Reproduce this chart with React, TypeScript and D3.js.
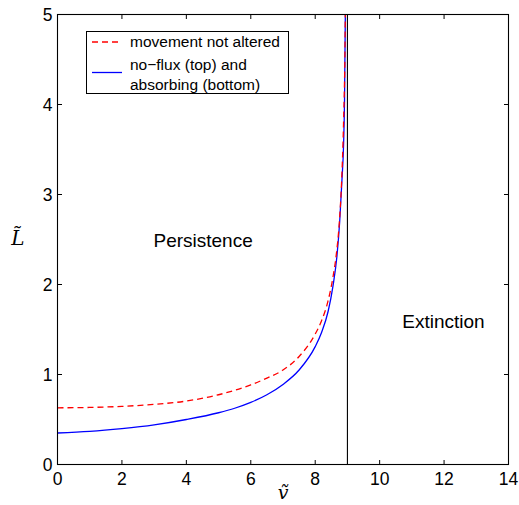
import React from "react";
import * as d3 from "d3";

const xTicks = [0, 2, 4, 6, 8, 10, 12, 14];
const yTicks = [0, 1, 2, 3, 4, 5];

const redV = [0, 1, 2, 3, 4, 5, 6, 6.5, 7, 7.5, 8, 8.2, 8.4, 8.55, 8.65, 8.75, 8.82, 8.88, 8.92, 8.935];
const redL = [0.63, 0.634, 0.646, 0.668, 0.705, 0.775, 0.885, 0.96, 1.05, 1.2, 1.45, 1.6, 1.82, 2.08, 2.32, 2.7, 3.15, 3.8, 4.5, 5.0];

const blueV = [0, 1, 2, 3, 4, 5, 5.5, 6, 6.5, 7, 7.5, 8, 8.2, 8.4, 8.55, 8.67, 8.76, 8.83, 8.88, 8.91, 8.935];
const blueL = [0.35, 0.367, 0.398, 0.44, 0.5, 0.575, 0.625, 0.69, 0.775, 0.89, 1.05, 1.31, 1.47, 1.7, 1.98, 2.3, 2.7, 3.16, 3.55, 4.05, 5.0];

const boundaryV = 9;
const legendLabels = ["movement not altered", "no\u2212flux (top) and", "absorbing (bottom)"];
const regionLabels = [
  { text: "Persistence", v: 4.52, L: 2.49 },
  { text: "Extinction", v: 11.98, L: 1.6 },
];

export default function App() {
  const W = 519, H = 505;
  const left = 57.5, right = 508.5, top = 14.5, bottom = 464.5;
  const x = d3.scaleLinear().domain([0, 14]).range([left, right]);
  const y = d3.scaleLinear().domain([0, 5]).range([bottom, top]);
  const line = d3.line<[number, number]>().x(d => x(d[0])).y(d => y(d[1])).curve(d3.curveMonotoneX);
  const redPts = redV.map((v, i) => [v, redL[i]] as [number, number]);
  const bluePts = blueV.map((v, i) => [v, blueL[i]] as [number, number]);
  const tickLen = 4.5;
  const font = "Liberation Sans, Arial, Helvetica, sans-serif";

  return (
    <svg width={W} height={H} style={{ position: "absolute", left: 0, top: 0, background: "#fff" }}>
      <defs>
        <clipPath id="plotclip">
          <rect x={left} y={top} width={right - left} height={bottom - top} />
        </clipPath>
      </defs>
      <rect x={0} y={0} width={W} height={H} fill="#fff" />
      <g clipPath="url(#plotclip)">
        <line x1={x(boundaryV)} x2={x(boundaryV)} y1={y(0)} y2={y(5)} stroke="#000" strokeWidth={1.1} />
        <path d={line(bluePts) || ""} fill="none" stroke="#0000ff" strokeWidth={1.3} />
        <path d={line(redPts) || ""} fill="none" stroke="#ff0000" strokeWidth={1.3} strokeDasharray="6,4" />
      </g>
      <rect x={left} y={top} width={right - left} height={bottom - top} fill="none" stroke="#000" strokeWidth={1.1} />
      {xTicks.map(t => (
        <g key={"x" + t}>
          <line x1={x(t)} x2={x(t)} y1={bottom} y2={bottom - tickLen} stroke="#000" />
          <line x1={x(t)} x2={x(t)} y1={top} y2={top + tickLen} stroke="#000" />
          <text x={x(t)} y={bottom + 20} textAnchor="middle" fontFamily={font} fontSize={17.5} fill="#000">{t}</text>
        </g>
      ))}
      {yTicks.map(t => (
        <g key={"y" + t}>
          <line x1={left} x2={left + tickLen} y1={y(t)} y2={y(t)} stroke="#000" />
          <line x1={right} x2={right - tickLen} y1={y(t)} y2={y(t)} stroke="#000" />
          <text x={left - 5} y={y(t) + 6} textAnchor="end" fontFamily={font} fontSize={17.5} fill="#000">{t}</text>
        </g>
      ))}
      <text x={283} y={499} textAnchor="middle" fontFamily="DejaVu Serif, Liberation Serif, serif" fontStyle="italic" fontSize={19}>{"v\u0303"}</text>
      <text x={18} y={245} textAnchor="middle" fontFamily="DejaVu Serif, Liberation Serif, serif" fontStyle="italic" fontSize={20}>{"L\u0303"}</text>
      {regionLabels.map(r => (
        <text key={r.text} x={x(r.v)} y={y(r.L) + 7} textAnchor="middle" fontFamily={font} fontSize={19} fill="#000">{r.text}</text>
      ))}
      <rect x={86.5} y={31.5} width={202} height={62} fill="#fff" stroke="#000" strokeWidth={1} />
      <line x1={92} x2={122} y1={42} y2={42} stroke="#ff0000" strokeWidth={1.3} strokeDasharray="6,4" />
      <line x1={92} x2={122} y1={72.5} y2={72.5} stroke="#0000ff" strokeWidth={1.3} />
      <text x={130} y={47} fontFamily={font} fontSize={15.5}>{legendLabels[0]}</text>
      <text x={130} y={70} fontFamily={font} fontSize={15.5}>{legendLabels[1]}</text>
      <text x={130} y={90} fontFamily={font} fontSize={15.5}>{legendLabels[2]}</text>
    </svg>
  );
}
